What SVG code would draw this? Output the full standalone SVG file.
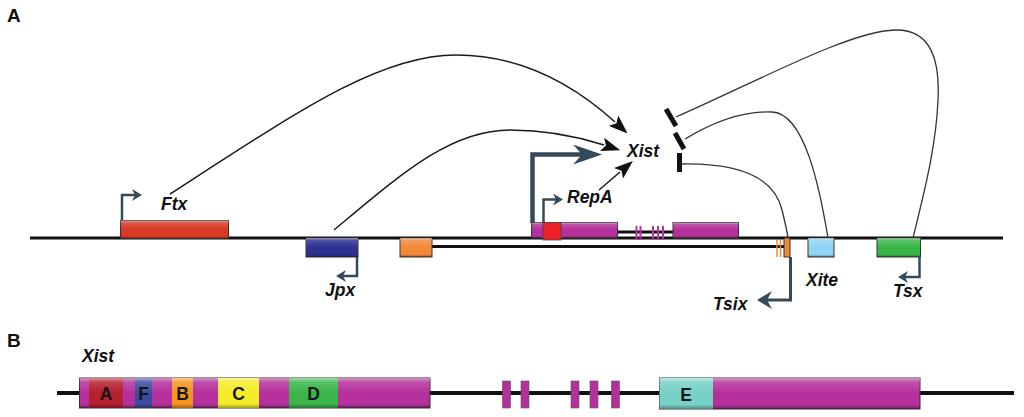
<svg xmlns="http://www.w3.org/2000/svg" width="1024" height="417" viewBox="0 0 1024 417">
<style>
.lbl{font-family:"Liberation Sans",Arial,sans-serif;font-weight:bold;font-style:italic;font-size:17.5px;fill:#111}
.panel{font-family:"Liberation Sans",Arial,sans-serif;font-weight:bold;font-size:19px;fill:#111}
.dom{font-family:"Liberation Sans",Arial,sans-serif;font-weight:bold;font-size:17.5px;fill:#151515;text-anchor:middle}
.box{stroke:#333;stroke-width:1}
.bev{fill:url(#bevel);stroke:none}
.prom{fill:none;stroke:#34495A;stroke-width:2.5}
.act{fill:none;stroke:#1a1a1a;stroke-width:1.5}
.inh{fill:none;stroke:#333;stroke-width:1.3}
.bar{stroke:#111;stroke-width:5}
.dna{stroke:#111;stroke-width:3;fill:none}
</style>
<defs>
<linearGradient id="bevel" x1="0" y1="0" x2="0" y2="1">
<stop offset="0" stop-color="#fff" stop-opacity="0.5"/>
<stop offset="0.14" stop-color="#fff" stop-opacity="0.15"/>
<stop offset="0.5" stop-color="#fff" stop-opacity="0"/>
<stop offset="0.86" stop-color="#000" stop-opacity="0"/>
<stop offset="1" stop-color="#000" stop-opacity="0.35"/>
</linearGradient>
<marker id="promHead" markerUnits="userSpaceOnUse" viewBox="0 0 10 12" markerWidth="10" markerHeight="12" refX="3" refY="6" orient="auto">
<path d="M0,0 L10,6 L0,12 L3,6 Z" fill="#34495A"/>
</marker>
<marker id="bigHead" markerUnits="userSpaceOnUse" viewBox="0 0 29 20" markerWidth="29" markerHeight="20" refX="9" refY="10" orient="auto">
<path d="M0,0 L29,10 L0,20 L9,10 Z" fill="#34495A"/>
</marker>
<marker id="tsixHead" markerUnits="userSpaceOnUse" viewBox="0 0 15 18" markerWidth="15" markerHeight="18" refX="5" refY="9" orient="auto">
<path d="M0,0 L15,9 L0,18 L5,9 Z" fill="#34495A"/>
</marker>
<marker id="actHead" markerUnits="userSpaceOnUse" viewBox="0 0 19 14" markerWidth="19" markerHeight="14" refX="2" refY="7" orient="auto">
<path d="M0,0 L19,7 L0,14 L4,7 Z" fill="#111"/>
</marker>
</defs>
<rect width="1024" height="417" fill="#fff"/>

<text class="panel" x="7" y="22">A</text>
<text class="panel" x="7" y="347">B</text>

<!-- Panel A DNA -->
<g id="dnaA">
<line class="dna" x1="30" y1="238" x2="1003" y2="238"/>
<line class="dna" x1="432" y1="246.5" x2="785" y2="246.5" stroke-width="2.5"/>
<line class="dna" x1="617" y1="232" x2="673" y2="232" stroke-width="2"/>
</g>

<g id="ftx">
<rect class="box" x="120.5" y="220.5" width="108" height="18" fill="#D93A25"/>
<rect class="bev" x="120.5" y="220.5" width="108" height="18"/>
<path class="prom" d="M122,220 V195 H135" marker-end="url(#promHead)"/>
<text class="lbl" x="161" y="210">Ftx</text>
</g>

<g id="jpx">
<rect class="box" x="306" y="238" width="52" height="19" fill="#2E3192"/>
<rect class="bev" x="306" y="238" width="52" height="19"/>
<path class="prom" d="M357,257 V276 H343" marker-end="url(#promHead)"/>
<text class="lbl" x="325" y="296">Jpx</text>
</g>

<g id="orange">
<rect class="box" x="400" y="238" width="32" height="19" fill="#F28A3A"/>
<rect class="bev" x="400" y="238" width="32" height="19"/>
</g>

<g id="xistA">
<rect class="box" x="531.5" y="222.5" width="86" height="15.5" fill="#B5309C"/>
<rect class="bev" x="531.5" y="222.5" width="86" height="15.5"/>
<rect x="543" y="222.5" width="18" height="17.5" fill="#EE2027" stroke="#444" stroke-width="0.8"/>
<rect class="box" x="673" y="222.5" width="65.5" height="15.5" fill="#B5309C"/>
<rect class="bev" x="673" y="222.5" width="65.5" height="15.5"/>
<g fill="#C12FA8">
<rect x="635.5" y="226" width="2" height="14"/>
<rect x="639.5" y="226" width="2" height="14"/>
<rect x="652" y="226" width="2" height="14"/>
<rect x="657" y="226" width="2" height="14"/>
<rect x="662" y="226" width="2" height="14"/>
</g>
<path d="M532.5,223 V154.5 H582" fill="none" stroke="#34495A" stroke-width="4.5" marker-end="url(#bigHead)"/>
<text class="lbl" x="627" y="157" font-size="18">Xist</text>
</g>

<g id="repA">
<path class="prom" d="M543.5,223 V199.5 H556" marker-end="url(#promHead)"/>
<text class="lbl" x="567" y="203">RepA</text>
</g>

<g id="tsix">
<line x1="777" y1="240" x2="777" y2="257" stroke="#F28A3A" stroke-width="1.5"/>
<line x1="780.5" y1="240" x2="780.5" y2="257" stroke="#F28A3A" stroke-width="1.5"/>
<rect class="box" x="784" y="238" width="6" height="19" fill="#F28A3A"/>
<path d="M790.5,257 V300 H767" fill="none" stroke="#34495A" stroke-width="3" marker-end="url(#tsixHead)"/>
<text class="lbl" x="713" y="310">Tsix</text>
</g>

<g id="xite">
<rect class="box" x="808" y="238" width="26" height="19" fill="#8FD4F2"/>
<rect class="bev" x="808" y="238" width="26" height="19"/>
<text class="lbl" x="806" y="286">Xite</text>
</g>

<g id="tsx">
<rect class="box" x="877" y="238" width="43.5" height="19" fill="#3AB54A"/>
<rect class="bev" x="877" y="238" width="43.5" height="19"/>
<path class="prom" d="M919.5,257 V277 H905" marker-end="url(#promHead)"/>
<text class="lbl" x="893" y="297">Tsx</text>
</g>

<!-- connectors -->
<g id="connectors">
<path class="act" d="M170,194 C300,110 380,55 456,55 C530,55 584,94 615,122" marker-end="url(#actHead)"/>
<path class="act" d="M334,230 C400,175 450,130 510,130 C550,130 579,137 604,145" marker-end="url(#actHead)"/>
<path class="act" d="M599,190 L620,172" marker-end="url(#actHead)"/>
<path class="inh" d="M676,117 C760,80 850,31 895,30 C932,29 940,62 938,100 C936,150 922,200 913,238"/>
<path class="inh" d="M685,139 C720,118 750,111 772,112 C805,113 820,190 828,238"/>
<path class="inh" d="M682,164 C745,163 775,180 782,210 C785,222 787,230 788,238" stroke="#888" stroke-width="1"/>
<line class="bar" x1="666" y1="109" x2="676" y2="126"/>
<line class="bar" x1="675" y1="133" x2="684" y2="149"/>
<line class="bar" x1="679.5" y1="153" x2="679.5" y2="172"/>
</g>

<!-- Panel B -->
<g id="dnaB">
<line x1="57" y1="393" x2="1014" y2="393" stroke="#111" stroke-width="4"/>
</g>
<g id="xistB">
<text class="lbl" x="82" y="362" font-size="18">Xist</text>
<rect class="box" x="79.5" y="378" width="350.5" height="30" fill="#B5309C"/>
<rect x="89" y="378" width="34" height="30" fill="#B51F2E"/>
<rect x="135" y="378" width="17" height="30" fill="#3B4BA0"/>
<rect x="172" y="378" width="21" height="30" fill="#F7941D"/>
<rect x="218" y="378" width="41" height="30" fill="#F5EC28"/>
<rect x="289" y="378" width="49" height="30" fill="#3BB54A"/>
<rect class="bev" x="79.5" y="378" width="350.5" height="30"/>
<text class="dom" x="106" y="400">A</text>
<text class="dom" x="143.5" y="400">F</text>
<text class="dom" x="182.5" y="400">B</text>
<text class="dom" x="238.5" y="400">C</text>
<text class="dom" x="313.5" y="400">D</text>
<g fill="#B5309C" stroke="#555" stroke-width="0.6">
<rect x="502.5" y="381" width="8" height="27"/>
<rect x="521" y="381" width="8" height="27"/>
<rect x="571" y="381" width="8" height="27"/>
<rect x="590" y="381" width="8" height="27"/>
<rect x="611.5" y="381" width="8" height="27"/>
</g>
<rect class="box" x="659.5" y="378" width="260.5" height="31" fill="#B5309C"/>
<rect x="659.5" y="378" width="53.5" height="31" fill="#78D1C5"/>
<rect class="bev" x="659.5" y="378" width="260.5" height="31"/>
<text class="dom" x="686" y="400.5">E</text>
</g>
</svg>
